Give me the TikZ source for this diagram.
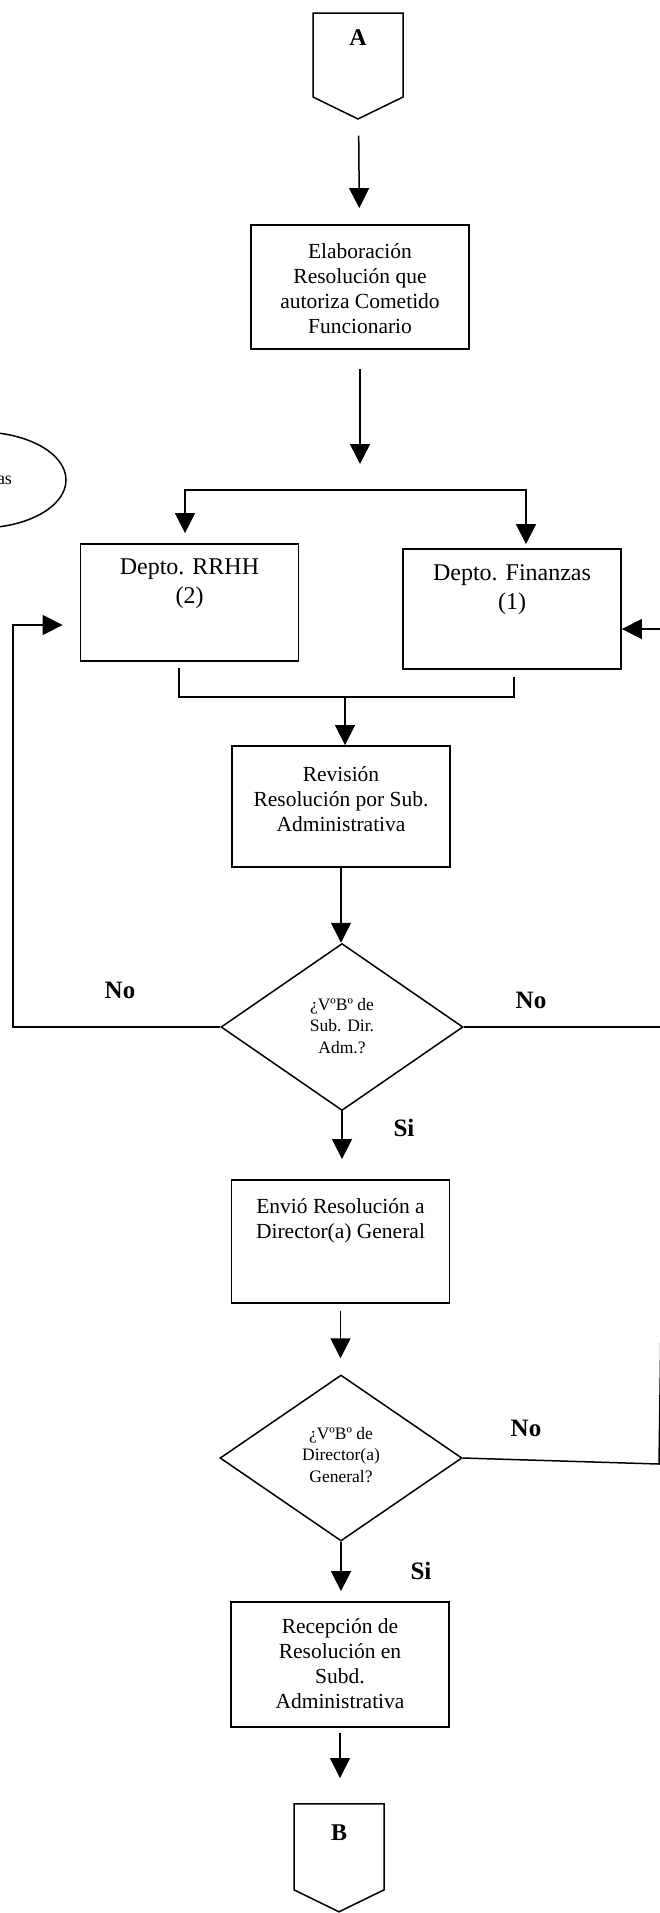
\documentclass[tikz,border=0pt]{standalone}
\usepackage{fontspec}
\setmainfont{Liberation Serif}
\usetikzlibrary{positioning, arrows.meta, shapes.geometric, shapes.symbols, calc}
\newcommand{\boxlines}[2][0pt]{\raisebox{#1}[0pt][0pt]{\begin{tabular}{@{}c@{}}#2\end{tabular}}}

\begin{document}
\begin{tikzpicture}[x=1pt, y=-1pt,
  proc/.style={draw, line width=1.8pt, minimum width=218pt, minimum height=122pt,
               inner sep=0pt, font=\fontsize{21.5}{25}\selectfont},
  dept/.style={proc, font=\fontsize{24}{29}\selectfont},
  decision/.style={draw, diamond, line width=1.5pt, minimum width=242pt, minimum height=167pt,
               inner sep=0pt, font=\fontsize{17.5}{21.5}\selectfont},
  offpage/.style={draw, signal, signal to=south, signal pointer angle=128, line width=1.5pt,
               minimum width=90pt, minimum height=88pt, inner sep=0pt,
               font=\fontsize{24}{28}\selectfont\bfseries},
  memo/.style={draw, ellipse, line width=1.5pt, minimum width=172pt, minimum height=96pt,
               inner sep=0pt, font=\fontsize{18}{22}\selectfont},
  answer/.style={font=\fontsize{25}{30}\selectfont\bfseries},
  link/.style={line width=1.5pt},
  arr/.style={link, -{Triangle[length=20pt, width=20pt]}},
]
  \useasboundingbox (0,0) rectangle (660,1913);
  \clip (0,0) rectangle (660,1913);

  % top connector and first step
  \node[offpage, anchor=north] (conA) at (358,12.5) {\boxlines[9pt]{A}};
  \node[proc, minimum height=124pt] (elab) at (360,287)
    {\boxlines[-9pt]{Elaboración\\Resolución que\\autoriza Cometido\\Funcionario}};
  \node[memo] (note) at (-20,480) {\makebox[64pt][r]{as}};

  % the two departments
  \node[dept, minimum height=117pt] (rrhh) at (189.5,602.5) {\boxlines[13pt]{Depto. RRHH\\(2)}};
  \node[dept, minimum height=120pt] (fin) at (512,609) {\boxlines[14pt]{Depto. Finanzas\\(1)}};

  \node[proc, minimum height=121pt] (rev) at (341,806.5)
    {\boxlines{Revisión\\Resolución por Sub.\\Administrativa}};
  \node[decision] (dec1) at (342,1027) {\boxlines[-5pt]{¿VºBº de\\Sub. Dir.\\Adm.?}};
  \node[proc, minimum height=123pt] (envio) at (340.5,1241.5)
    {\boxlines[15pt]{Envió Resolución a\\Director(a) General}};
  \node[decision, minimum height=166pt] (dec2) at (341,1458) {\boxlines[-3pt]{¿VºBº de\\Director(a)\\General?}};
  \node[proc, minimum height=125pt] (recep) at (340,1664.5)
    {\boxlines[-7pt]{Recepción de\\Resolución en\\Subd.\\Administrativa}};
  \node[offpage, anchor=north, minimum height=90pt] (conB) at (339,1803) {\boxlines[6pt]{B}};

  % answers
  \node[answer] (noL) at (120,990) {No};
  \node[answer] (noR) at (531,1000) {No};
  \node[answer] (siA) at (404,1128) {Si};
  \node[answer] (noR2) at (526,1428) {No};
  \node[answer] (siB) at (421,1571) {Si};

  \coordinate (fork) at (360,490);
  \coordinate (join) at (345,697);
  \coordinate (backL) at (13,1024);
  \coordinate (rtop) at (671,629);
  \coordinate (rbot) at (659,1464);

  % main flow
  \draw[arr, shorten <=16pt, shorten >=16pt] (conA) -- (elab);
  \draw[arr, shorten <=19pt, shorten >=26pt] (elab) -- (fork);
  \draw[arr, shorten >=10pt] (fork) -| ([xshift=-4.5pt]rrhh.north);
  \draw[arr, shorten >=4pt] (fork) -| ([xshift=14pt]fin.north);
  \draw[link, shorten <=6pt, shorten >=7pt] ([xshift=-10.5pt]rrhh.south) |- (join) -| ([xshift=2pt]fin.south);
  \draw[arr] (join) -- (join |- rev.north);
  \draw[arr] (rev.south) -- (rev.south |- dec1.north);
  \draw[arr, shorten >=20pt] (dec1.south) -- (dec1.south |- envio.north);
  \draw[arr, shorten <=7pt, shorten >=16pt] (envio.south) -- (envio.south |- dec2.north);
  \draw[arr, shorten >=10pt] (dec2.south) -- (dec2.south |- recep.north);
  \draw[arr, shorten <=5pt, shorten >=25pt] (recep.south) -- (recep.south |- conB.north);

  % return loops
  \draw[arr, shorten >=17pt] (dec1.west) -- (dec1.west -| backL) |- ([yshift=-22.5pt]rrhh.west);
  \draw[link] (dec1.east) -- (dec1.east -| rtop);
  \draw[link] (dec2.east) -- (rbot) -- (rtop);
  \draw[arr] (rtop) -- ([yshift=-20pt]fin.east);
\end{tikzpicture}
\end{document}
